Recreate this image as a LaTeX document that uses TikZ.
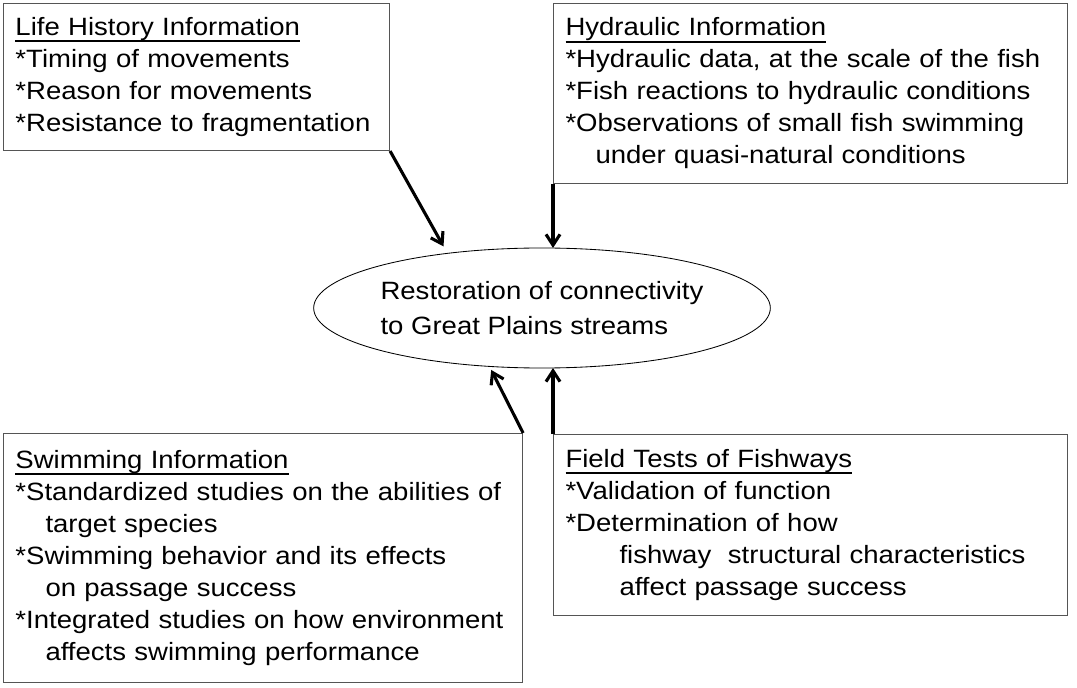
\documentclass[tikz,border=0pt]{standalone}
\usepackage{fontspec}
\setmainfont[FakeStretch=1.1]{Liberation Sans}
\usepackage{tikz}
\usetikzlibrary{shapes, arrows.meta, positioning}
\definecolor{rand}{RGB}{85, 85, 85}
\newsavebox{\hdrbox}
\newcommand{\hdr}[1]{\sbox\hdrbox{#1}\rlap{\rule[-0.27em]{\wd\hdrbox}{0.075em}}\usebox\hdrbox}
\newcommand{\ind}{\hspace*{0.75cm}}
\tikzset{
    info/.style={draw=rand, rectangle, line width=0.7pt, anchor=north west, align=left,
                 inner xsep=0.3cm, inner ysep=0pt, font=\fontsize{17.8}{22.76}\selectfont},
    goal/.style={draw, ellipse, line width=0.6pt, inner sep=0pt, outer sep=0pt,
                 minimum width=10.075cm, minimum height=3cm, align=left,
                 font=\fontsize{17.8}{24.9}\selectfont},
    link/.style={-{Straight Barb[length=2.7mm, width=3.5mm]}, line width=2.2pt, black},
}

\begin{document}
\begin{tikzpicture}[x=0.025cm, y=-0.025cm]
    \useasboundingbox (0,0) rectangle (1077,688);

    \node [goal] (goal) at (542,308) {Restoration of connectivity\\to Great Plains streams};

    \node [info, text width=9.05cm, minimum height=3.675cm] (lh) at (3,3)
        {\hdr{Life History Information}\\
         {*}Timing of movements\\
         {*}Reason for movements\\
         {*}Resistance to fragmentation};
    \node [info, text width=12.25cm, minimum height=4.5cm] (hyd) at (553,3)
        {\hdr{Hydraulic Information}\\
         {*}Hydraulic data, at the scale of the fish\\
         {*}Fish reactions to hydraulic conditions\\
         {*}Observations of small fish swimming\\
         \ind under quasi-natural conditions};
    \node [info, text width=12.375cm, minimum height=6.225cm] (swim) at (3,433)
        {\hdr{Swimming Information}\\
         {*}Standardized studies on the abilities of\\
         \ind target species\\
         {*}Swimming behavior and its effects\\
         \ind on passage success\\
         {*}Integrated studies on how environment\\
         \ind affects swimming performance};
    \node [info, text width=12.25cm, minimum height=4.525cm] (field) at (553,434)
        {\hdr{Field Tests of Fishways}\\
         {*}Validation of function\\
         {*}Determination of how\\
         \hspace*{1.35cm}fishway\ \ structural characteristics\\
         \hspace*{1.35cm}affect passage success};

    \draw[link, shorten >=0.2cm] (lh.south east) -- (goal.150);
    \draw[link] (hyd.south west) -- (hyd.south west |- goal.north);
    \draw[link, shorten >=0.1cm] (swim.north east) -- (goal.228);
    \draw[link] (field.north west) -- (field.north west |- goal.south);
\end{tikzpicture}
\end{document}
